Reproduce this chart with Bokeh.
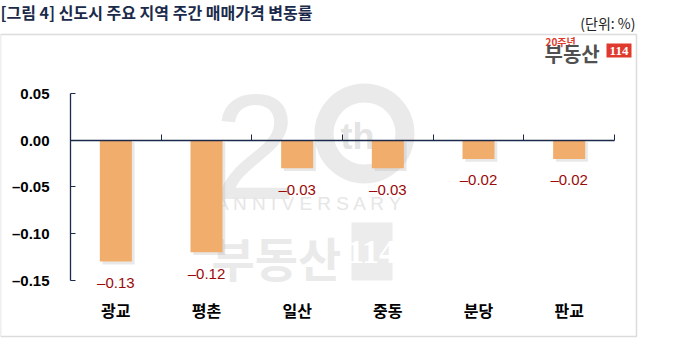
from bokeh.plotting import figure
from bokeh.models import (ColumnDataSource, Range1d, FixedTicker, Label,
                          BoxAnnotation, LinearAxis)
from bokeh.transform import dodge
from bokeh.core.properties import value
from bokeh.embed import file_html
from bokeh.resources import INLINE

# ---- data ----
categories = ["광교", "평촌", "일산", "중동", "분당", "판교"]
values = [-0.13, -0.12, -0.03, -0.03, -0.02, -0.02]
value_labels = ["\u20130.13", "\u20130.12", "\u20130.03", "\u20130.03", "\u20130.02", "\u20130.02"]
y_ticks = [-0.15, -0.10, -0.05, 0.00, 0.05]
y_tick_labels = ["\u20130.15", "\u20130.10", "\u20130.05", "0.00", "0.05"]
category_bounds = [0, 1, 2, 3, 4, 5, 6]
title_text = "[그림 4] 신도시 주요 지역 주간 매매가격 변동률"
unit_text = "(단위: %)"

W, H = 681, 346
NAVY = "#1b2a4a"
BAR = "#f0ad6b"

# layout geometry (pixels inside the canvas)
AX_X, AX_RIGHT, Y_TOP_PX = 70, 614, 93
px_per_cat = (AX_RIGHT - AX_X) / len(categories)
px_per_unit = 46.7 / 0.05
x_start = -AX_X / px_per_cat
x_end = len(categories) + (W - AX_RIGHT) / px_per_cat
y_end = 0.05 + Y_TOP_PX / px_per_unit
y_start = 0.05 - (H - Y_TOP_PX) / px_per_unit


def dx(px):
    return (px - AX_X) / px_per_cat


def dy(py):
    return 0.05 - (py - Y_TOP_PX) / px_per_unit


xs = [i + 0.5 for i in range(len(categories))]
src = ColumnDataSource(dict(
    x=xs, v=values, lab=value_labels,
    stop=[-0.002] * len(values),
    sbot=[v - 0.003 for v in values],
))

p = figure(width=W, height=H, output_backend="svg", toolbar_location=None,
           x_range=Range1d(x_start, x_end), y_range=Range1d(y_start, y_end),
           x_axis_type=None, y_axis_type=None,
           min_border=0)
p.outline_line_color = None
p.grid.visible = False
p.background_fill_color = "white"
p.border_fill_color = "white"


def sx(px):
    return px


def sy(py):
    return H - py


def lab(text, px, py, size, color, style="normal", font="Noto Sans CJK KR",
        align="left", baseline="middle", level="annotation", **kw):
    l = Label(x=sx(px), y=sy(py), x_units="screen", y_units="screen",
              text=text, text_font_size=size, text_color=color,
              text_font_style=style, text_font=font, text_align=align,
              text_baseline=baseline, level=level, **kw)
    p.add_layout(l)
    return l


# ---- watermark ----
WM = "#eaeaea"
lab("2", 213, 146, "150px", WM, "normal", "Liberation Sans", "left", level="underlay")
p.annulus(x=[dx(364)], y=[dy(133)], inner_radius=31, outer_radius=50,
          inner_radius_units="screen", outer_radius_units="screen",
          fill_color=WM, line_color=None, level="underlay")
lab("th", 357, 136, "36px", "#e4e4e4", "bold", "Liberation Sans", "center", level="underlay")
lab("A N N I V E R S A R Y", 310, 203, "19px", "#e6e6e6", "normal", "Liberation Sans", "center", level="underlay")
lab("부동산", 211, 256, "47px", WM, "bold", "Noto Sans CJK KR", "left", level="underlay")
p.add_layout(BoxAnnotation(left=sx(351), right=sx(392), top=sy(222), bottom=sy(280),
                           left_units="screen", right_units="screen",
                           top_units="screen", bottom_units="screen",
                           fill_color="#ececec", fill_alpha=1, line_color=None,
                           level="underlay"))
lab("114", 371, 251, "34px", "white", "bold", "Liberation Sans Narrow", "center", level="underlay")

# ---- bars ----
p.vbar(x=dodge("x", 0.03, range=p.x_range), top="stop", bottom="sbot", width=0.353,
       source=src, fill_color="#bdbdbd", fill_alpha=0.35, line_color=None)
p.vbar(x="x", top=0, bottom="v", width=0.353, source=src,
       fill_color=BAR, line_color=None)
p.text(x="x", y="v", text="lab", source=src, y_offset=21,
       text_align="center", text_baseline="middle", text_color="#9a0a0a",
       text_font_size="15px", text_font=value("Liberation Sans"))

# ---- axes (pinned inside the frame) ----
ya = LinearAxis(fixed_location=0, ticker=FixedTicker(ticks=y_ticks),
                bounds=(-0.15, 0.05))
ya.major_label_overrides = {t: s for t, s in zip(y_ticks, y_tick_labels)}
ya.axis_line_color = NAVY
ya.axis_line_width = 1.3
ya.major_tick_line_color = NAVY
ya.major_tick_in = 5
ya.major_tick_out = 0
ya.minor_tick_line_color = None
ya.major_label_standoff = 21
ya.major_label_text_font = "Liberation Sans"
ya.major_label_text_font_style = "bold"
ya.major_label_text_font_size = "15px"
ya.major_label_text_color = "black"
p.add_layout(ya, "left")

xa0 = LinearAxis(fixed_location=0, ticker=FixedTicker(ticks=category_bounds[1:]),
                 bounds=(0, len(categories)))
xa0.axis_line_color = NAVY
xa0.axis_line_width = 1.3
xa0.major_tick_line_color = NAVY
xa0.major_tick_in = 6
xa0.major_tick_out = 0
xa0.minor_tick_line_color = None
xa0.major_label_text_color = None
p.add_layout(xa0, "below")

xa = LinearAxis(fixed_location=-0.15, ticker=FixedTicker(ticks=xs))
xa.major_label_overrides = {x: c for x, c in zip(xs, categories)}
xa.axis_line_color = None
xa.major_tick_line_color = None
xa.minor_tick_line_color = None
xa.major_label_standoff = 12
xa.major_label_text_font = "Noto Sans CJK KR"
xa.major_label_text_font_style = "bold"
xa.major_label_text_font_size = "16px"
xa.major_label_text_color = "black"
p.add_layout(xa, "below")

# ---- frame box ----
p.add_layout(BoxAnnotation(left=sx(0), right=sx(636), top=sy(34), bottom=sy(336),
                           left_units="screen", right_units="screen",
                           top_units="screen", bottom_units="screen",
                           fill_color=None, fill_alpha=0, line_color="#8c8c8c",
                           line_width=1.5, level="overlay"))

# ---- titles ----
lab(title_text, 0, 11, "16px", NAVY, "bold")
lab(unit_text, 635, 22, "14px", "#222222", "normal", align="right")

# ---- logo ----
lab("20주년", 545, 41, "10px", "#e23a2c", "bold")
lab("부동산", 544, 53, "20px", "#505050", "bold")
p.add_layout(BoxAnnotation(left=sx(606), right=sx(631), top=sy(43), bottom=sy(57),
                           left_units="screen", right_units="screen",
                           top_units="screen", bottom_units="screen",
                           fill_color="#e0392e", fill_alpha=1, line_color=None))
lab("114", 618.5, 50.5, "13px", "white", "bold", "Liberation Sans Narrow", "center")

open("out.html", "w").write(file_html(p, INLINE))
